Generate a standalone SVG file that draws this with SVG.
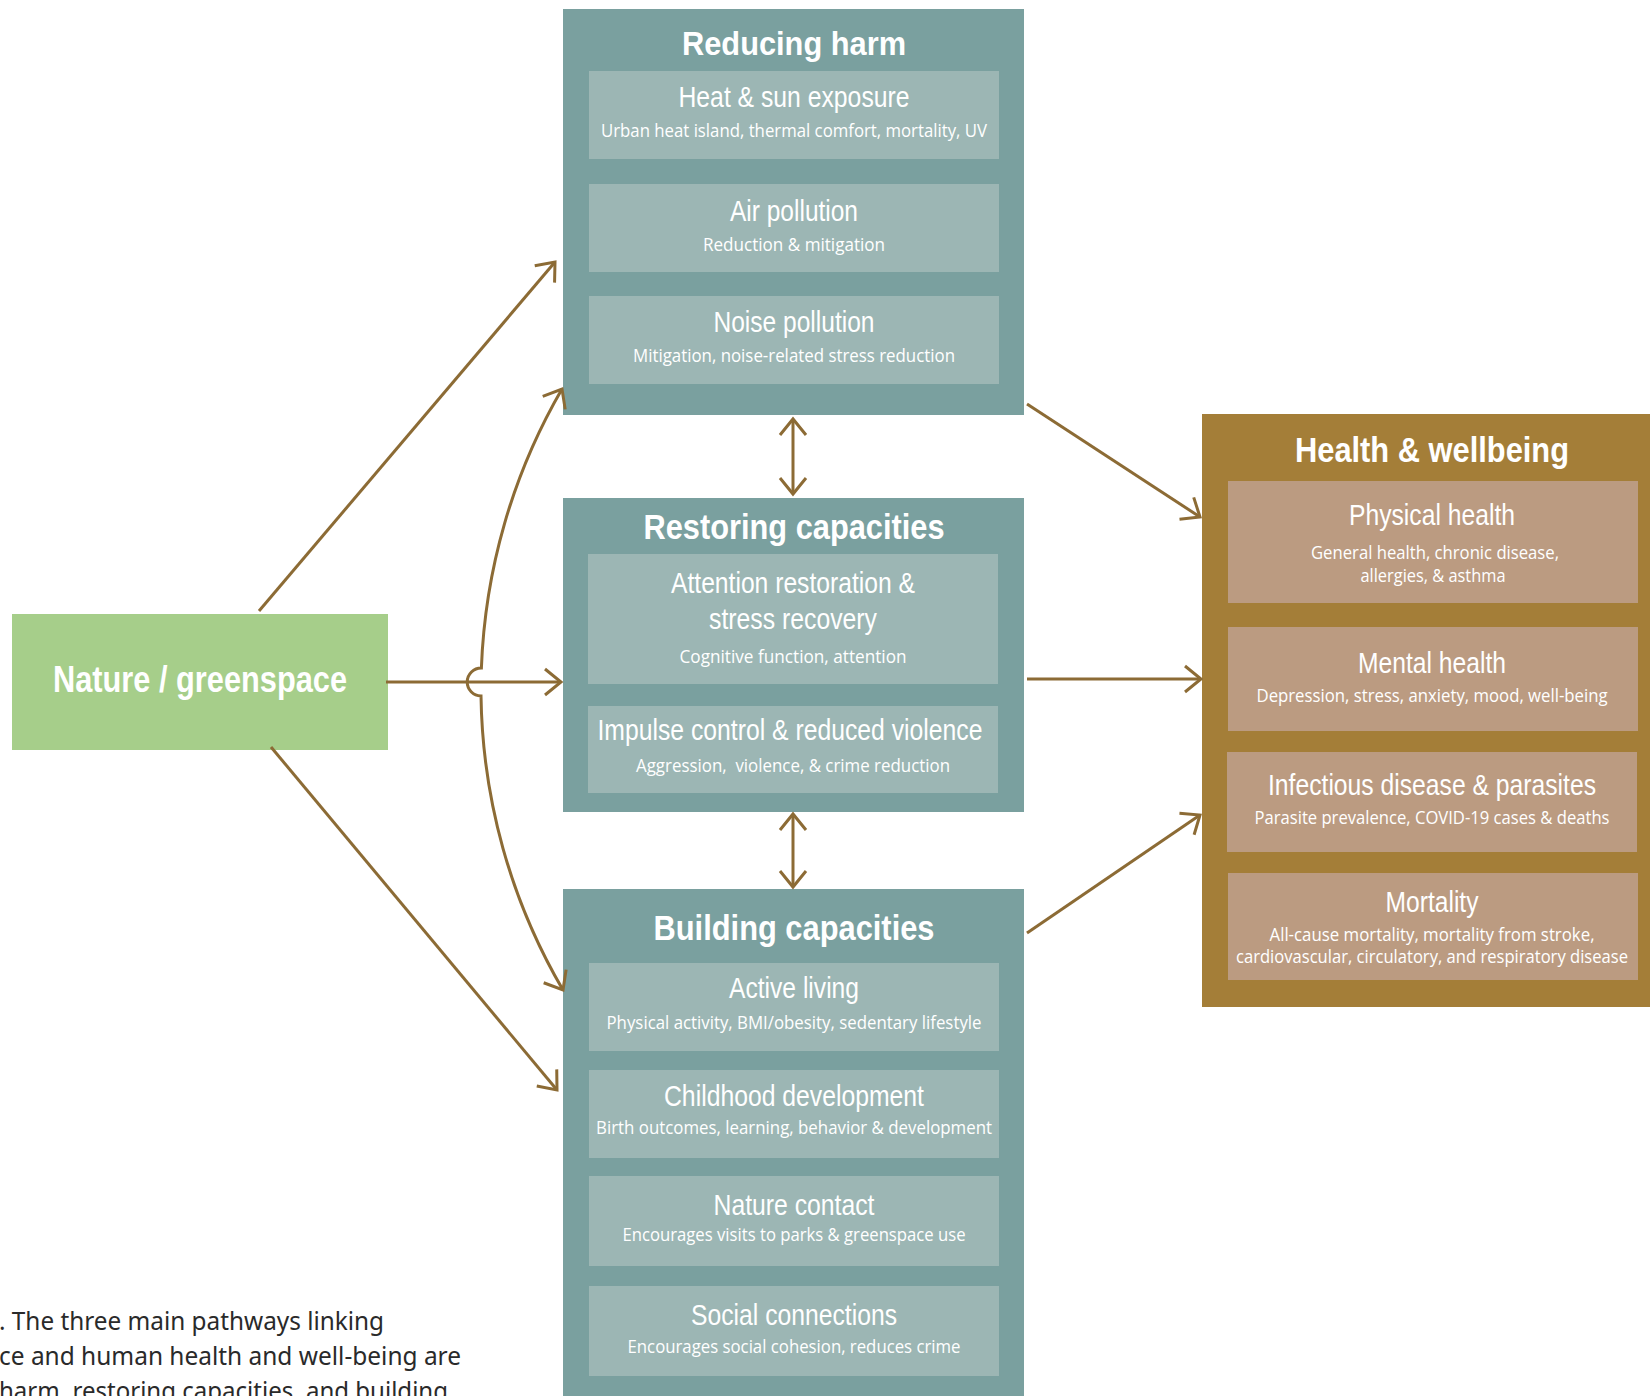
<svg xmlns="http://www.w3.org/2000/svg" width="1650" height="1396" viewBox="0 0 1650 1396">
<defs>
<style>
.outer{fill:#7AA09F}
.inner{fill:#9CB6B4}
.houter{fill:#A47E38}
.hinner{fill:#BB9B81}
.green{fill:#A6CE8A}
.title{font-family:"Liberation Sans",Arial,sans-serif;font-weight:bold;fill:#fff;text-anchor:middle}
.sub{font-family:"Liberation Sans",Arial,sans-serif;font-size:29px;fill:#fff;text-anchor:middle}
.desc{font-family:"Open Sans","Noto Sans",sans-serif;font-size:18px;fill:#fff;text-anchor:middle}
.cap{font-family:"Noto Sans","Open Sans",sans-serif;font-size:26px;fill:#2a2a2a}
.conn{fill:none;stroke:#8C6B35;stroke-width:3;marker-end:url(#ah)}
.dbl{marker-start:url(#ah)}
</style>
<marker id="ah" viewBox="-18 -15 20 30" refX="0" refY="0" markerWidth="20" markerHeight="30" markerUnits="userSpaceOnUse" orient="auto-start-reverse" overflow="visible">
<path d="M-16,-13 L0,0 L-16,13" fill="none" stroke="#8C6B35" stroke-width="3"/>
</marker>
</defs>
<rect width="1650" height="1396" fill="#fff"/>

<g id="caption">
<text class="cap" x="-1" y="1330" textLength="385" lengthAdjust="spacingAndGlyphs">. The three main pathways linking</text>
<text class="cap" x="-1" y="1365" textLength="462" lengthAdjust="spacingAndGlyphs">ce and human health and well-being are</text>
<text class="cap" x="-1" y="1400" textLength="449" lengthAdjust="spacingAndGlyphs">harm, restoring capacities, and building</text>
</g>

<g id="nature">
<rect class="green" x="12" y="614" width="376" height="136"/>
<text class="title" x="200" y="692" font-size="37" textLength="294" lengthAdjust="spacingAndGlyphs">Nature / greenspace</text>
</g>

<g id="reducing-harm">
<rect class="outer" x="563" y="9" width="461" height="406"/>
<text class="title" x="794" y="55" font-size="34" textLength="224" lengthAdjust="spacingAndGlyphs">Reducing harm</text>
<rect class="inner" x="589" y="71" width="410" height="88"/>
<text class="sub" x="794" y="107" textLength="231" lengthAdjust="spacingAndGlyphs">Heat &amp; sun exposure</text>
<text class="desc" x="794" y="137" textLength="386" lengthAdjust="spacingAndGlyphs">Urban heat island, thermal comfort, mortality, UV</text>
<rect class="inner" x="589" y="184" width="410" height="88"/>
<text class="sub" x="794" y="221" textLength="128" lengthAdjust="spacingAndGlyphs">Air pollution</text>
<text class="desc" x="794" y="251" textLength="182" lengthAdjust="spacingAndGlyphs">Reduction &amp; mitigation</text>
<rect class="inner" x="589" y="296" width="410" height="88"/>
<text class="sub" x="794" y="332" textLength="161" lengthAdjust="spacingAndGlyphs">Noise pollution</text>
<text class="desc" x="794" y="362" textLength="322" lengthAdjust="spacingAndGlyphs">Mitigation, noise-related stress reduction</text>
</g>

<g id="restoring-capacities">
<rect class="outer" x="563" y="498" width="461" height="314"/>
<text class="title" x="794" y="539" font-size="35" textLength="301" lengthAdjust="spacingAndGlyphs">Restoring capacities</text>
<rect class="inner" x="588" y="554" width="410" height="130"/>
<text class="sub" x="793" y="593" textLength="244" lengthAdjust="spacingAndGlyphs">Attention restoration &amp;</text>
<text class="sub" x="793" y="629" textLength="168" lengthAdjust="spacingAndGlyphs">stress recovery</text>
<text class="desc" x="793" y="663" textLength="227" lengthAdjust="spacingAndGlyphs">Cognitive function, attention</text>
<rect class="inner" x="588" y="706" width="410" height="87"/>
<text class="sub" x="790" y="740" textLength="385" lengthAdjust="spacingAndGlyphs">Impulse control &amp; reduced violence</text>
<text class="desc" x="793" y="772" textLength="314" lengthAdjust="spacingAndGlyphs" xml:space="preserve">Aggression,  violence, &amp; crime reduction</text>
</g>

<g id="building-capacities">
<rect class="outer" x="563" y="889" width="461" height="510"/>
<text class="title" x="794" y="940" font-size="35" textLength="281" lengthAdjust="spacingAndGlyphs">Building capacities</text>
<rect class="inner" x="589" y="963" width="410" height="88"/>
<text class="sub" x="794" y="998" textLength="130" lengthAdjust="spacingAndGlyphs">Active living</text>
<text class="desc" x="794" y="1029" textLength="375" lengthAdjust="spacingAndGlyphs">Physical activity, BMI/obesity, sedentary lifestyle</text>
<rect class="inner" x="589" y="1070" width="410" height="88"/>
<text class="sub" x="794" y="1106" textLength="260" lengthAdjust="spacingAndGlyphs">Childhood development</text>
<text class="desc" x="794" y="1134" textLength="396" lengthAdjust="spacingAndGlyphs">Birth outcomes, learning, behavior &amp; development</text>
<rect class="inner" x="589" y="1176" width="410" height="90"/>
<text class="sub" x="794" y="1215" textLength="161" lengthAdjust="spacingAndGlyphs">Nature contact</text>
<text class="desc" x="794" y="1241" textLength="343" lengthAdjust="spacingAndGlyphs">Encourages visits to parks &amp; greenspace use</text>
<rect class="inner" x="589" y="1286" width="410" height="90"/>
<text class="sub" x="794" y="1325" textLength="206" lengthAdjust="spacingAndGlyphs">Social connections</text>
<text class="desc" x="794" y="1353" textLength="333" lengthAdjust="spacingAndGlyphs">Encourages social cohesion, reduces crime</text>
</g>

<g id="health-wellbeing">
<rect class="houter" x="1202" y="414" width="460" height="593"/>
<text class="title" x="1432" y="462" font-size="35" textLength="274" lengthAdjust="spacingAndGlyphs">Health &amp; wellbeing</text>
<rect class="hinner" x="1228" y="481" width="410" height="122"/>
<text class="sub" x="1432" y="525" textLength="166" lengthAdjust="spacingAndGlyphs">Physical health</text>
<text class="desc" x="1435" y="559" textLength="248" lengthAdjust="spacingAndGlyphs">General health, chronic disease,</text>
<text class="desc" x="1433" y="582" textLength="145" lengthAdjust="spacingAndGlyphs">allergies, &amp; asthma</text>
<rect class="hinner" x="1228" y="627" width="410" height="104"/>
<text class="sub" x="1432" y="673" textLength="148" lengthAdjust="spacingAndGlyphs">Mental health</text>
<text class="desc" x="1432" y="702" textLength="351" lengthAdjust="spacingAndGlyphs">Depression, stress, anxiety, mood, well-being</text>
<rect class="hinner" x="1227" y="752" width="410" height="100"/>
<text class="sub" x="1432" y="795" textLength="328" lengthAdjust="spacingAndGlyphs">Infectious disease &amp; parasites</text>
<text class="desc" x="1432" y="824" textLength="355" lengthAdjust="spacingAndGlyphs">Parasite prevalence, COVID-19 cases &amp; deaths</text>
<rect class="hinner" x="1228" y="873" width="410" height="107"/>
<text class="sub" x="1432" y="912" textLength="93" lengthAdjust="spacingAndGlyphs">Mortality</text>
<text class="desc" x="1432" y="941" textLength="325" lengthAdjust="spacingAndGlyphs">All-cause mortality, mortality from stroke,</text>
<text class="desc" x="1432" y="963" textLength="392" lengthAdjust="spacingAndGlyphs">cardiovascular, circulatory, and respiratory disease</text>
</g>

<g id="connectors">
<path class="conn" d="M259,611 L555,262"/>
<path class="conn" d="M386,682 L561,682"/>
<path class="conn" d="M271,747 L557,1090"/>
<path class="conn dbl" d="M562,389 A599,599 0 0 0 481.4,668 A14,14 0 0 0 481,696 A599,599 0 0 0 563,990"/>
<path class="conn dbl" d="M793,419 L793,494"/>
<path class="conn dbl" d="M793,814 L793,887"/>
<path class="conn" d="M1027,404 L1200,517"/>
<path class="conn" d="M1027,679 L1201,679"/>
<path class="conn" d="M1027,933 L1200,815"/>
</g>
</svg>
